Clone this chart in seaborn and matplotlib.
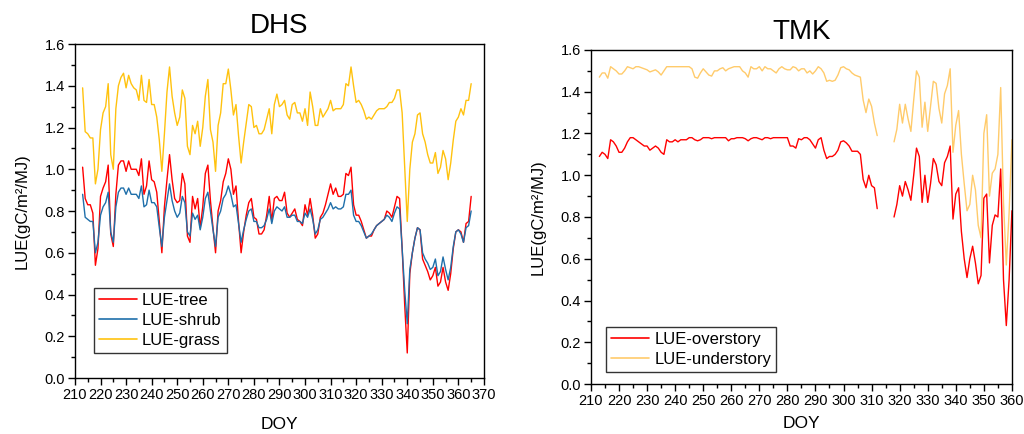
import numpy as np
import pandas as pd
import matplotlib
matplotlib.use("Agg")
import matplotlib.pyplot as plt
from matplotlib.ticker import MultipleLocator
import seaborn as sns

# ---------------- DHS site: daily light-use efficiency ----------------
dhs_doy = list(range(213, 366))

dhs_tree = [
    1.01, 0.86, 0.83, 0.83, 0.79, 0.54, 0.62, 0.87, 0.91, 0.94,
    1.02, 0.69, 0.63, 0.88, 1.02, 1.04, 1.04, 0.99, 1.04, 1.00,
    1.00, 1.00, 0.97, 1.05, 0.88, 0.92, 1.04, 0.95, 0.94, 0.89,
    0.75, 0.60, 0.82, 0.95, 1.07, 0.95, 0.86, 0.84, 0.85, 0.98,
    0.93, 0.68, 0.65, 0.87, 0.81, 0.86, 0.72, 0.82, 0.98, 1.02,
    0.85, 0.72, 0.60, 0.80, 0.85, 0.94, 0.98, 1.05, 1.00, 0.88,
    0.92, 0.75, 0.60, 0.70, 0.78, 0.84, 0.86, 0.77, 0.76, 0.69,
    0.69, 0.71, 0.78, 0.87, 0.75, 0.86, 0.87, 0.85, 0.85, 0.89,
    0.79, 0.77, 0.79, 0.81, 0.76, 0.75, 0.73, 0.83, 0.78, 0.86,
    0.78, 0.67, 0.69, 0.77, 0.79, 0.83, 0.88, 0.93, 0.88, 0.91,
    0.87, 0.87, 0.88, 0.98, 0.97, 1.01, 0.83, 0.78, 0.78, 0.75,
    0.71, 0.67, 0.68, 0.68, 0.71, 0.73, 0.74, 0.75, 0.76, 0.80,
    0.79, 0.77, 0.82, 0.87, 0.86, 0.62, 0.35, 0.12, 0.50, 0.60,
    0.67, 0.72, 0.71, 0.57, 0.54, 0.51, 0.47, 0.49, 0.53, 0.44,
    0.46, 0.53, 0.46, 0.42, 0.50, 0.62, 0.70, 0.71, 0.70, 0.65,
    0.74, 0.75, 0.87,
]

dhs_shrub = [
    0.88, 0.77, 0.76, 0.75, 0.75, 0.60, 0.65, 0.78, 0.82, 0.84,
    0.89, 0.70, 0.65, 0.82, 0.89, 0.91, 0.91, 0.88, 0.91, 0.88,
    0.88, 0.88, 0.86, 0.92, 0.82, 0.83, 0.90, 0.84, 0.84, 0.82,
    0.72, 0.63, 0.77, 0.85, 0.93, 0.85, 0.80, 0.77, 0.79, 0.87,
    0.84, 0.70, 0.68, 0.79, 0.76, 0.78, 0.71, 0.77, 0.86, 0.89,
    0.80, 0.71, 0.63, 0.77, 0.80, 0.86, 0.88, 0.92, 0.88, 0.82,
    0.83, 0.74, 0.65, 0.71, 0.76, 0.80, 0.81, 0.75, 0.75, 0.72,
    0.72, 0.73, 0.76, 0.81, 0.74, 0.80, 0.82, 0.81, 0.80, 0.82,
    0.77, 0.77, 0.78, 0.78, 0.75, 0.75, 0.74, 0.79, 0.77, 0.81,
    0.76, 0.69, 0.71, 0.76, 0.77, 0.79, 0.81, 0.84, 0.81, 0.82,
    0.81, 0.81, 0.82, 0.88, 0.88, 0.90, 0.78, 0.75, 0.75, 0.73,
    0.70, 0.67, 0.68, 0.69, 0.71, 0.73, 0.74, 0.75, 0.76, 0.78,
    0.77, 0.75, 0.79, 0.82, 0.81, 0.62, 0.42, 0.26, 0.52, 0.60,
    0.67, 0.72, 0.71, 0.60, 0.57, 0.55, 0.52, 0.53, 0.57, 0.49,
    0.51, 0.58, 0.52, 0.47, 0.53, 0.63, 0.70, 0.71, 0.69, 0.65,
    0.72, 0.73, 0.80,
]

dhs_grass = [
    1.39, 1.18, 1.17, 1.15, 1.15, 0.93, 1.00, 1.19, 1.27, 1.30,
    1.41, 1.07, 1.00, 1.29, 1.40, 1.44, 1.46, 1.39, 1.45, 1.41,
    1.39, 1.38, 1.33, 1.45, 1.33, 1.32, 1.43, 1.31, 1.31, 1.25,
    1.14, 0.99, 1.17, 1.37, 1.49, 1.35, 1.27, 1.21, 1.25, 1.38,
    1.34, 1.11, 1.07, 1.21, 1.17, 1.23, 1.11, 1.20, 1.35, 1.43,
    1.19, 1.13, 0.99, 1.21, 1.27, 1.41, 1.41, 1.48, 1.38, 1.26,
    1.31, 1.16, 1.03, 1.13, 1.22, 1.31, 1.30, 1.20, 1.21, 1.17,
    1.17, 1.19, 1.24, 1.29, 1.17, 1.31, 1.36, 1.30, 1.31, 1.33,
    1.26, 1.24, 1.31, 1.32, 1.27, 1.27, 1.23, 1.29, 1.21, 1.37,
    1.30, 1.21, 1.21, 1.29, 1.25, 1.27, 1.29, 1.33, 1.28, 1.29,
    1.29, 1.29, 1.31, 1.41, 1.40, 1.49, 1.40, 1.32, 1.33, 1.31,
    1.28, 1.24, 1.25, 1.24, 1.26, 1.28, 1.29, 1.29, 1.29, 1.30,
    1.32, 1.32, 1.34, 1.38, 1.38, 1.27, 1.01, 0.75, 1.00, 1.13,
    1.17, 1.26, 1.27, 1.17, 1.13, 1.07, 1.03, 1.03, 1.08, 0.98,
    1.01, 1.09, 1.05, 0.95, 1.03, 1.14, 1.23, 1.25, 1.29, 1.26,
    1.33, 1.33, 1.41,
]

# ---------------- TMK site: overstory / understory ----------------
# record is missing for DOY 313-317
tmk_doy_a = list(range(213, 313))
tmk_doy_b = list(range(318, 361))

tmk_over_a = [
    1.09, 1.11, 1.10, 1.08, 1.17, 1.16, 1.14, 1.11, 1.11, 1.13,
    1.16, 1.18, 1.18, 1.17, 1.16, 1.15, 1.14, 1.14, 1.12, 1.13,
    1.14, 1.13, 1.11, 1.10, 1.17, 1.16, 1.16, 1.17, 1.16, 1.17,
    1.17, 1.17, 1.18, 1.18, 1.17, 1.165, 1.17, 1.18, 1.18, 1.18,
    1.175, 1.18, 1.18, 1.18, 1.18, 1.18, 1.165, 1.175, 1.175, 1.18,
    1.18, 1.18, 1.175, 1.165, 1.175, 1.18, 1.18, 1.175, 1.17, 1.18,
    1.18, 1.175, 1.18, 1.18, 1.18, 1.18, 1.18, 1.18, 1.14, 1.14,
    1.13, 1.175, 1.17, 1.18, 1.18, 1.17, 1.15, 1.13, 1.17, 1.18,
    1.12, 1.08, 1.09, 1.09, 1.10, 1.12, 1.16, 1.165, 1.155, 1.14,
    1.115, 1.115, 1.115, 1.10, 0.98, 0.94, 1.00, 0.95, 0.94, 0.84,
]
tmk_over_b = [
    0.80, 0.86, 0.95, 0.90, 0.97, 0.93, 0.88, 1.00, 1.13, 1.09,
    0.87, 1.00, 0.87, 0.96, 1.08, 1.05, 0.97, 0.95, 1.06, 1.09,
    1.14, 0.79, 0.91, 0.94, 0.73, 0.60, 0.51, 0.60, 0.66, 0.58,
    0.48, 0.52, 0.89, 0.91, 0.58, 0.76, 0.81, 0.80, 1.03, 0.50,
    0.28, 0.50, 0.83,
]

tmk_under_a = [
    1.47, 1.49, 1.49, 1.465, 1.52, 1.51, 1.50, 1.485, 1.485, 1.50,
    1.52, 1.515, 1.51, 1.52, 1.52, 1.515, 1.51, 1.505, 1.495, 1.50,
    1.505, 1.495, 1.48, 1.50, 1.52, 1.52, 1.52, 1.52, 1.52, 1.52,
    1.52, 1.52, 1.52, 1.51, 1.47, 1.465, 1.49, 1.51, 1.495, 1.48,
    1.475, 1.50, 1.50, 1.51, 1.515, 1.50, 1.51, 1.515, 1.52, 1.52,
    1.52, 1.50, 1.49, 1.47, 1.52, 1.51, 1.51, 1.52, 1.50, 1.52,
    1.51, 1.51, 1.50, 1.49, 1.51, 1.52, 1.51, 1.505, 1.505, 1.52,
    1.515, 1.50, 1.51, 1.51, 1.49, 1.50, 1.485, 1.50, 1.52, 1.51,
    1.49, 1.45, 1.455, 1.45, 1.455, 1.48, 1.515, 1.52, 1.51, 1.505,
    1.49, 1.48, 1.475, 1.47, 1.36, 1.30, 1.365, 1.33, 1.25, 1.19,
]
tmk_under_b = [
    1.16, 1.22, 1.34, 1.25, 1.34, 1.27, 1.21, 1.36, 1.50, 1.47,
    1.23, 1.35, 1.21, 1.33, 1.45, 1.44, 1.32, 1.25, 1.39, 1.43,
    1.51, 1.11, 1.24, 1.31, 1.10, 0.96, 0.83, 0.86, 1.00, 0.93,
    0.76, 0.70, 1.20, 1.29, 0.90, 1.01, 1.03, 1.10, 1.42, 0.87,
    0.57, 0.82, 1.17,
]

yticks = [0.0, 0.2, 0.4, 0.6, 0.8, 1.0, 1.2, 1.4, 1.6]

# ---------------- build long tables ----------------
dhs = pd.concat([
    pd.DataFrame({"DOY": dhs_doy, "LUE": dhs_tree, "type": "LUE-tree"}),
    pd.DataFrame({"DOY": dhs_doy, "LUE": dhs_shrub, "type": "LUE-shrub"}),
    pd.DataFrame({"DOY": dhs_doy, "LUE": dhs_grass, "type": "LUE-grass"}),
], ignore_index=True)

tmk = pd.concat([
    pd.DataFrame({"DOY": tmk_doy_a, "LUE": tmk_over_a, "type": "LUE-overstory", "seg": 0}),
    pd.DataFrame({"DOY": tmk_doy_b, "LUE": tmk_over_b, "type": "LUE-overstory", "seg": 1}),
    pd.DataFrame({"DOY": tmk_doy_a, "LUE": tmk_under_a, "type": "LUE-understory", "seg": 0}),
    pd.DataFrame({"DOY": tmk_doy_b, "LUE": tmk_under_b, "type": "LUE-understory", "seg": 1}),
], ignore_index=True)

# ---------------- styling ----------------
sns.set_style("ticks")
plt.rcParams["font.family"] = ["Liberation Sans", "DejaVu Sans"]
plt.rcParams["axes.edgecolor"] = "black"
plt.rcParams["axes.linewidth"] = 1.0
plt.rcParams["xtick.color"] = "black"
plt.rcParams["ytick.color"] = "black"
plt.rcParams["text.color"] = "black"
plt.rcParams["axes.labelcolor"] = "black"
plt.rcParams["xtick.labelcolor"] = "black"
plt.rcParams["ytick.labelcolor"] = "black"

fig = plt.figure(figsize=(10.24, 4.34), dpi=100)
ax1 = fig.add_axes([0.0732, 0.129, 0.3994, 0.7696])
ax2 = fig.add_axes([0.5771, 0.1152, 0.4111, 0.7696])

dhs_pal = {"LUE-tree": "#FF0000", "LUE-shrub": "#1F6FAA", "LUE-grass": "#FFC20E"}
tmk_pal = {"LUE-overstory": "#FF0000", "LUE-understory": "#FFCB6B"}

sns.lineplot(data=dhs, x="DOY", y="LUE", hue="type", palette=dhs_pal,
             hue_order=["LUE-tree", "LUE-shrub", "LUE-grass"],
             estimator=None, linewidth=1.0, ax=ax1)
sns.lineplot(data=tmk, x="DOY", y="LUE", hue="type", units="seg", palette=tmk_pal,
             hue_order=["LUE-overstory", "LUE-understory"],
             estimator=None, linewidth=1.0, ax=ax2)


def style_axes(ax, xmax, title, legend_anchor, xlabelpad):
    ax.set_xlim(210, xmax)
    ax.set_ylim(0, 1.6)
    ax.set_yticks(yticks)
    ax.set_yticklabels([f"{t:.1f}" for t in yticks])
    ax.xaxis.set_major_locator(MultipleLocator(10))
    ax.xaxis.set_minor_locator(MultipleLocator(5))
    ax.yaxis.set_minor_locator(MultipleLocator(0.1))
    ax.tick_params(axis="both", which="major", direction="out", length=5,
                   width=1, labelsize=10.5, pad=2, colors="black")
    ax.tick_params(axis="both", which="minor", direction="out", length=3,
                   width=1, colors="black")
    ax.tick_params(top=False, right=False, which="both")
    for sp in ax.spines.values():
        sp.set_visible(True)
        sp.set_color("black")
    ax.set_xlabel("DOY", fontsize=12.5, labelpad=xlabelpad, color="black")
    ax.set_ylabel("LUE(gC/m\u00b2/MJ)", fontsize=12, labelpad=11, color="black")
    ax.set_title(title, fontsize=20, pad=8, color="black")
    handles, labels = ax.get_legend_handles_labels()
    leg = ax.legend(handles, labels, loc="lower left", bbox_to_anchor=legend_anchor,
                    frameon=True, fancybox=False, shadow=False, fontsize=12,
                    handlelength=2.3, handletextpad=0.3, borderpad=0.3,
                    labelspacing=0.3, borderaxespad=0)
    leg.get_frame().set_edgecolor("black")
    leg.get_frame().set_linewidth(1.0)
    for text in leg.get_texts():
        text.set_color("black")
    for line in leg.get_lines():
        line.set_linewidth(1.2)


style_axes(ax1, 370, "DHS", (0.046, 0.075), 11)
style_axes(ax2, 360, "TMK", (0.036, 0.036), 6)

fig.savefig("out.png", dpi=100)
